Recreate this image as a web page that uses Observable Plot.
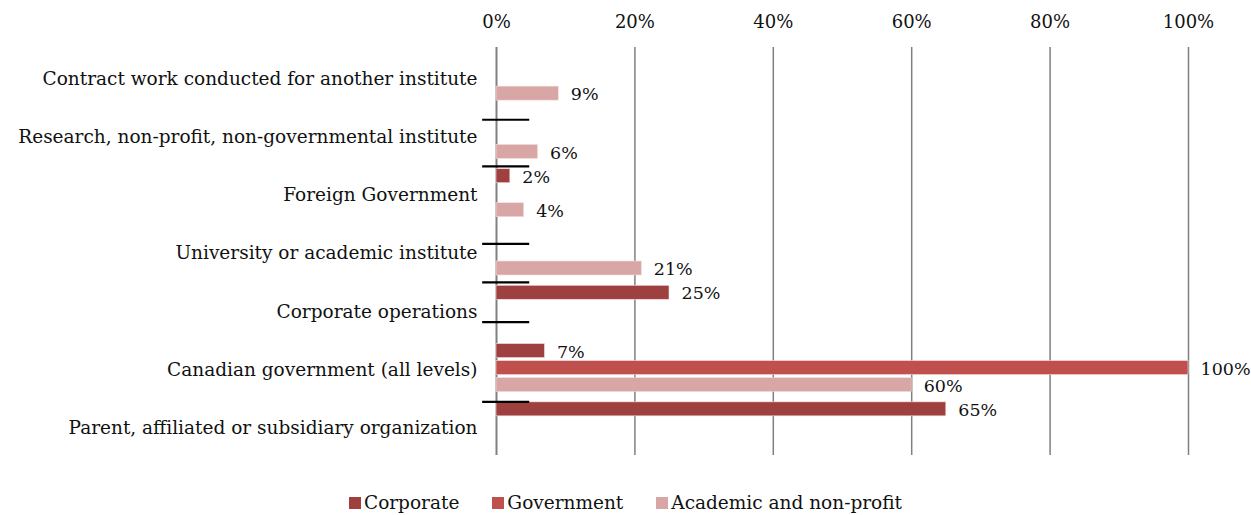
<!DOCTYPE html>
<html>
<head>
<meta charset="utf-8">
<script src="https://cdn.jsdelivr.net/npm/d3@7"></script>
<script src="https://cdn.jsdelivr.net/npm/@observablehq/plot@0.6"></script>
<style>
  html, body { margin: 0; padding: 0; background: #fff; }
  body { width: 1251px; height: 515px; overflow: hidden; font-family: "DejaVu Serif", serif; }
  #legend { display: flex; justify-content: center; align-items: center; gap: 33px; font-size: 18.5px; color: #111; margin-top: 12px; padding-left: 0px; }
  .item { display: flex; align-items: center; }
  .sw { width: 12px; height: 12px; margin-right: 3px; display: inline-block; }
</style>
</head>
<body>
<div id="chart"></div>
<div id="legend"></div>
<script>
const categories = [
  "Contract work conducted for another institute",
  "Research, non-profit, non-governmental institute",
  "Foreign Government",
  "University or academic institute",
  "Corporate operations",
  "Canadian government (all levels)",
  "Parent, affiliated or subsidiary organization"
];
const seriesNames = ["Corporate", "Government", "Academic and non-profit"];
const corporate  = [null, null, 2, null, 25, 7, 65];
const government = [null, null, null, null, null, 100, null];
const academic   = [9, 6, 4, 21, null, 60, null];
const colors = ["#9E4040", "#C0504D", "#D9A6A6"];
const xTicks = [0, 20, 40, 60, 80, 100];
// stray black separator marks, in category-index units (0 = top of first category)
const separators = [1.24, 2.04, 3.37, 4.03, 4.71, 6.08];

const seriesValues = [corporate, government, academic];
const data = [];
seriesValues.forEach((vals, s) => vals.forEach((v, i) => {
  if (v != null) data.push({cat: i, s, series: seriesNames[s], value: v});
}));
const offset = 0.2916, half = 0.12;
const center = d => d.cat + 0.5 + (d.s - 1) * offset;

const chart = Plot.plot({
  width: 1251,
  height: 480,
  marginLeft: 496,
  marginRight: 63,
  marginTop: 47,
  marginBottom: 25,
  style: {fontFamily: "DejaVu Serif, serif", fontSize: "18px", color: "#111", background: "white"},
  x: {domain: [0, 100], label: null},
  y: {domain: [0, 7], reverse: true, label: null},
  marks: [
    Plot.gridX(xTicks.slice(1), {stroke: "#808080", strokeOpacity: 1, strokeWidth: 1.5}),
    Plot.ruleX([0], {stroke: "#808080", strokeWidth: 2}),
    Plot.axisX(xTicks, {anchor: "top", tickSize: 0, tickPadding: 20, tickFormat: d => d + "%", fontSize: 18, label: null}),
    Plot.axisY(categories.map((c, i) => i + 0.5), {anchor: "left", tickSize: 0, tickPadding: 19, dy: 2, tickFormat: d => categories[Math.floor(d)], fontSize: 18.5, label: null}),
    Plot.rectX(data, {
      x1: 0, x2: "value",
      y1: d => center(d) - half, y2: d => center(d) + half,
      fill: d => colors[d.s], stroke: "#f3dcdc", strokeWidth: 0.6
    }),
    Plot.text(data, {
      x: "value", y: center, text: d => d.value + "%",
      textAnchor: "start", dx: 12, dy: 1, fontSize: 17.5, fill: "#111"
    }),
    Plot.ruleY(separators, {x1: -2, x2: 4.8, stroke: "#000", strokeWidth: 2.2})
  ]
});
document.getElementById("chart").appendChild(chart);

const legend = document.getElementById("legend");
seriesNames.forEach((name, s) => {
  const it = document.createElement("div");
  it.className = "item";
  const sw = document.createElement("span");
  sw.className = "sw";
  sw.style.background = colors[s];
  it.appendChild(sw);
  it.appendChild(document.createTextNode(name));
  legend.appendChild(it);
});
</script>
</body>
</html>
